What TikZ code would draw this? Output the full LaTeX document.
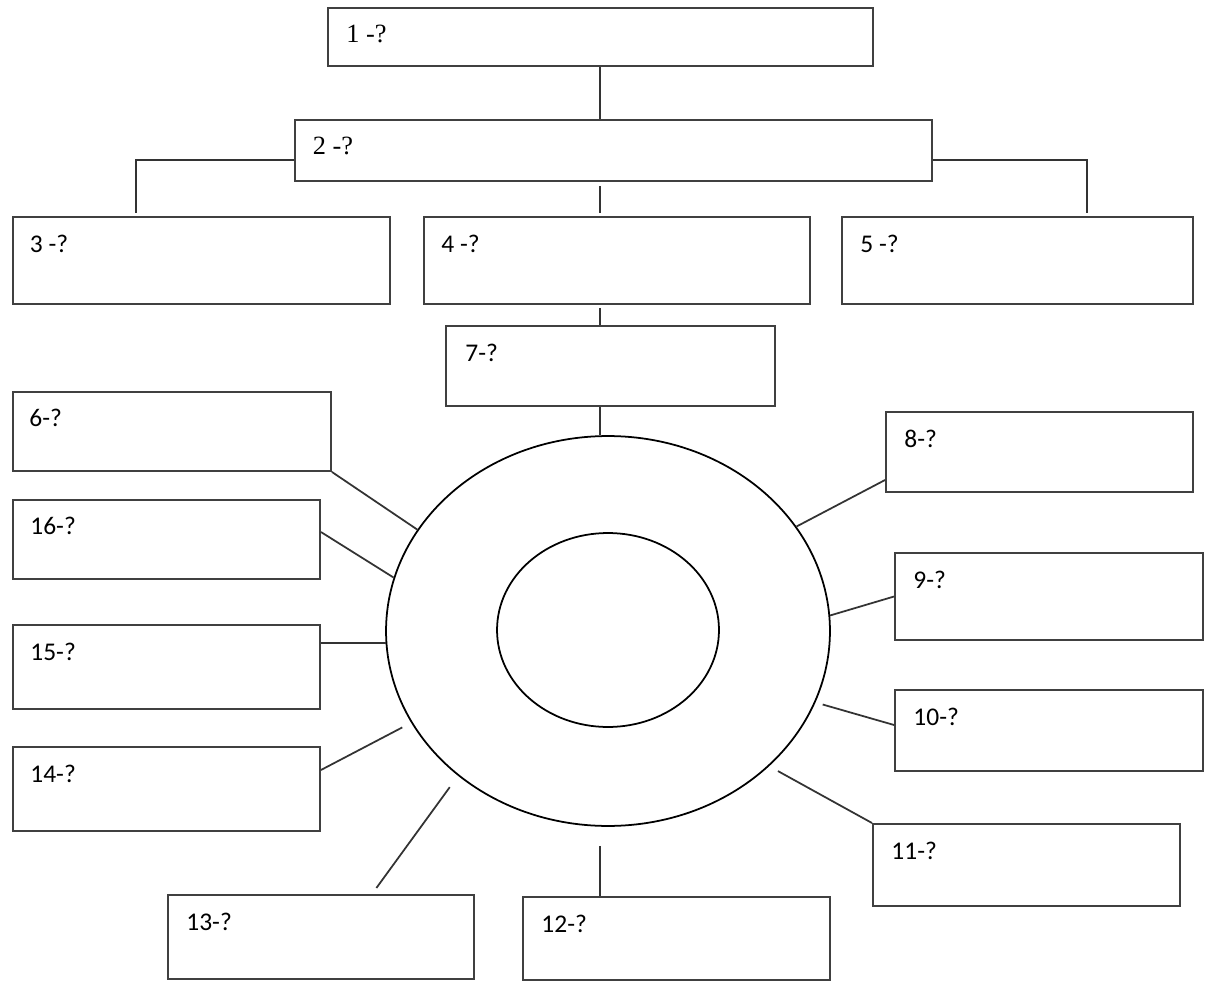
\documentclass[tikz,border=0pt]{standalone}
\usepackage{fontspec}
\setmainfont{Carlito}
\newfontfamily\serifnum{Liberation Serif}
\usetikzlibrary{shapes.geometric}

\begin{document}
\begin{tikzpicture}[
		x=0.02cm, y=-0.02cm,
		box/.style={rectangle, draw=black!75, line width=1.1pt, inner sep=0pt},
		tag/.style={anchor=base west, inner sep=0pt, font=\fontsize{14.5}{17}\selectfont},
		headtag/.style={tag, font=\serifnum\fontsize{15}{18}\selectfont},
		oval/.style={ellipse, draw=black, line width=1pt, inner sep=0pt},
		link/.style={draw=black!80, line width=1pt}
		]
		\useasboundingbox (0,0) rectangle (1207,983);

		% top hierarchy
		\node[box, minimum width=10.9cm, minimum height=1.16cm] (b1) at (600.5,37) {};
		\node[box, minimum width=12.74cm, minimum height=1.22cm] (b2) at (613.5,150.5) {};
		\node[box, minimum width=7.54cm, minimum height=1.74cm] (b3) at (201.5,260.5) {};
		\node[box, minimum width=7.72cm, minimum height=1.74cm] (b4) at (617,260.5) {};
		\node[box, minimum width=7.02cm, minimum height=1.74cm] (b5) at (1017.5,260.5) {};
		\node[box, minimum width=6.58cm, minimum height=1.6cm] (b7) at (610.5,366) {};

		% boxes round the ring
		\node[box, minimum width=6.36cm, minimum height=1.58cm] (b6) at (172,431.5) {};
		\node[box, minimum width=6.14cm, minimum height=1.58cm] (b16) at (166.5,539.5) {};
		\node[box, minimum width=6.14cm, minimum height=1.68cm] (b15) at (166.5,667) {};
		\node[box, minimum width=6.14cm, minimum height=1.68cm] (b14) at (166.5,789) {};
		\node[box, minimum width=6.12cm, minimum height=1.68cm] (b13) at (321,937) {};
		\node[box, minimum width=6.14cm, minimum height=1.66cm] (b12) at (676.5,938.5) {};
		\node[box, minimum width=6.14cm, minimum height=1.64cm] (b11) at (1026.5,865) {};
		\node[box, minimum width=6.16cm, minimum height=1.62cm] (b10) at (1049,730.5) {};
		\node[box, minimum width=6.16cm, minimum height=1.74cm] (b9) at (1049,596.5) {};
		\node[box, minimum width=6.14cm, minimum height=1.6cm] (b8) at (1039.5,452) {};

		\node[oval, minimum width=8.88cm, minimum height=7.8cm] (ring) at (608,631) {};
		\node[oval, minimum width=4.44cm, minimum height=3.88cm] (core) at (608,630) {};

		% labels
		\node[headtag] (t1) at ([xshift=0.38cm, yshift=-0.7cm]b1.north west) {1 -?};
		\node[headtag] (t2) at ([xshift=0.37cm, yshift=-0.7cm]b2.north west) {2 -?};
		\node[tag] (t3) at ([xshift=0.35cm, yshift=-0.72cm]b3.north west) {3 -?};
		\node[tag] (t4) at ([xshift=0.36cm, yshift=-0.72cm]b4.north west) {4 -?};
		\node[tag] (t5) at ([xshift=0.38cm, yshift=-0.72cm]b5.north west) {5 -?};
		\node[tag] (t7) at ([xshift=0.4cm, yshift=-0.72cm]b7.north west) {7-?};
		\node[tag] (t6) at ([xshift=0.34cm, yshift=-0.7cm]b6.north west) {6-?};
		\node[tag] (t16) at ([xshift=0.36cm, yshift=-0.7cm]b16.north west) {16-?};
		\node[tag] (t15) at ([xshift=0.36cm, yshift=-0.72cm]b15.north west) {15-?};
		\node[tag] (t14) at ([xshift=0.36cm, yshift=-0.72cm]b14.north west) {14-?};
		\node[tag] (t13) at ([xshift=0.38cm, yshift=-0.72cm]b13.north west) {13-?};
		\node[tag] (t12) at ([xshift=0.38cm, yshift=-0.72cm]b12.north west) {12-?};
		\node[tag] (t11) at ([xshift=0.38cm, yshift=-0.72cm]b11.north west) {11-?};
		\node[tag] (t10) at ([xshift=0.38cm, yshift=-0.72cm]b10.north west) {10-?};
		\node[tag] (t9) at ([xshift=0.38cm, yshift=-0.72cm]b9.north west) {9-?};
		\node[tag] (t8) at ([xshift=0.38cm, yshift=-0.72cm]b8.north west) {8-?};

		% connectors
		\coordinate (spine) at (600,0);
		\draw[link] (b1.south -| spine) -- (b2.north -| spine);
		\draw[link, shorten >=0.06cm] ([yshift=-0.19cm]b2.west) -| ([xshift=-1.31cm]b3.north);
		\draw[link, shorten >=0.06cm] ([yshift=-0.19cm]b2.east) -| ([xshift=1.39cm]b5.north);
		\draw[link, shorten <=0.08cm, shorten >=0.06cm] (b2.south -| spine) -- (b4.north -| spine);
		\draw[link, shorten <=0.06cm] (b4.south -| spine) -- (b7.north -| spine);
		\draw[link] (b7.south -| spine) -- (ring.north -| spine);

		\draw[link] (b6.south east) -- (ring.152);
		\draw[link] ([yshift=0.15cm]b16.east) -- (ring.166);
		\draw[link] (ring.183) -- (ring.183 -| b15.east);
		\draw[link, shorten >=0.2cm] ([yshift=0.38cm]b14.east) -- (ring.205);
		\draw[link, shorten <=0.15cm, shorten >=0.28cm] ([xshift=1.02cm]b13.north) -- (ring.224);
		\draw[link, shorten <=0.38cm] (ring.south -| spine) -- (b12.north -| spine);
		\draw[link, shorten >=0.2cm] (b11.north west) -- (ring.320);
		\draw[link, shorten >=0.15cm] ([yshift=0.11cm]b10.west) -- (ring.341);
		\draw[link] (b9.west) -- (ring.4);
		\draw[link] ([yshift=-0.56cm]b8.west) -- (ring.29);
	\end{tikzpicture}
\end{document}
